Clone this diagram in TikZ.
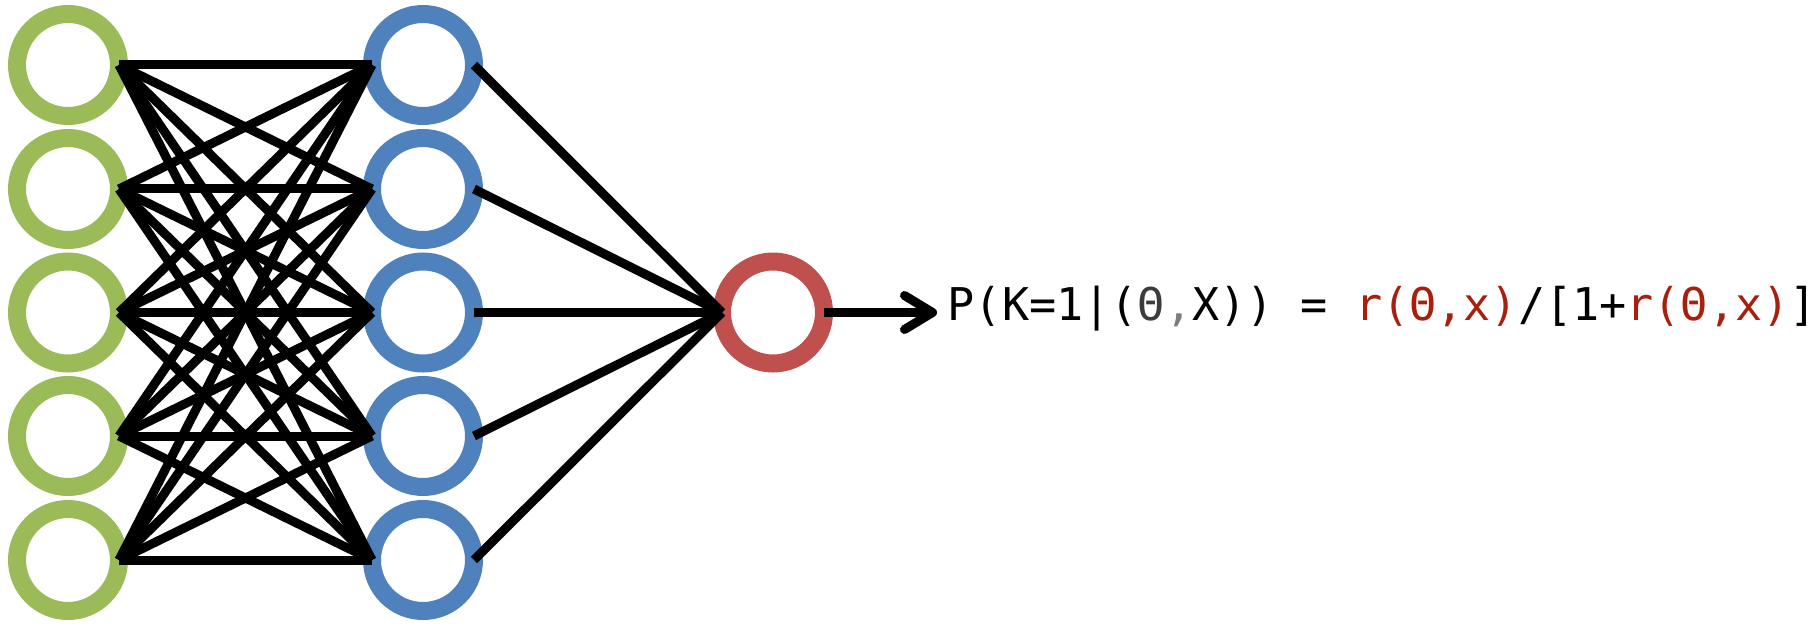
\documentclass[tikz,border=0pt]{standalone}
\usepackage{fontspec}
\setmonofont{DejaVu Sans Mono}
\usetikzlibrary{arrows.meta}

\definecolor{verdeentrada}{RGB}{155,187,89}
\definecolor{azuloculta}{RGB}{79,129,189}
\definecolor{rojosalida}{RGB}{192,80,77}
\definecolor{rojotexto}{RGB}{168,32,13}
\definecolor{grisoscuro}{RGB}{60,60,60}
\definecolor{grisclaro}{RGB}{125,125,125}

\begin{document}
\begin{tikzpicture}[x=1pt,y=1pt,
    neurona/.style={circle,draw,line width=18pt,minimum size=102pt,inner sep=0pt,outer sep=0pt},
    conexion/.style={line width=9pt}]
    \useasboundingbox (0,0) rectangle (1820,625);

    % capas de entrada y oculta
    \foreach \i\y in {1/560,2/436,3/312.5,4/189,5/65}{
      \node[neurona,draw=verdeentrada] (e\i) at (68,\y) {};
      \node[neurona,draw=azuloculta] (o\i) at (423,\y) {};
    }

    % capa de salida
    \node[neurona,draw=rojosalida] (s) at (773,312.5) {};

    % conexiones
    \foreach \i in {1,...,5}{
      \foreach \j in {1,...,5}{
        \draw[conexion] (e\i.east) -- (o\j.west);
      }
      \draw[conexion] (o\i.east) -- (s.west);
    }

    % flecha y probabilidad
    \coordinate (punta) at (937,312.5);
    \draw[conexion,-{Straight Barb[length=28pt,width=34pt,round]}] (s.east) -- (punta);
    \node[anchor=base west,inner sep=0pt,font=\ttfamily\fontsize{45.1}{54}\selectfont] (prob) at (947.6,305)
      {P(K=1|(\textcolor{grisoscuro}{Θ}\textcolor{grisclaro}{,}X)) = \textcolor{rojotexto}{r(Θ,x)}/[1+\textcolor{rojotexto}{r(Θ,x)}]};
\end{tikzpicture}
\end{document}
